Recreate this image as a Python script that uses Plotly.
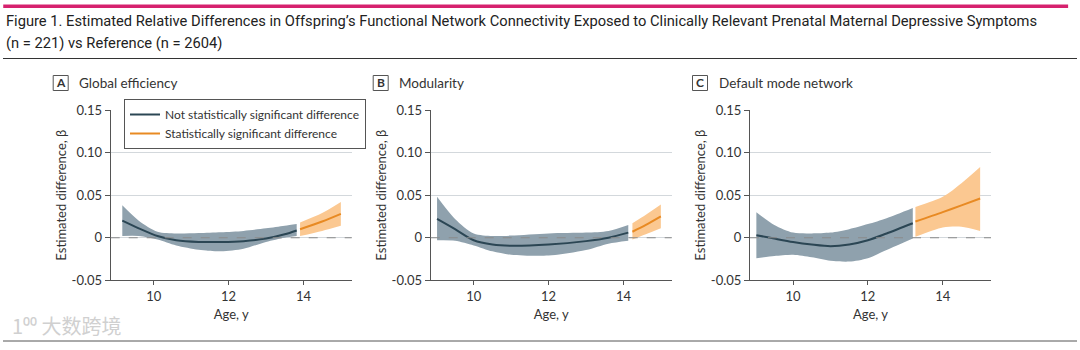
import plotly.graph_objects as go

W, H = 1080, 350

# ---------------- data ----------------
A_ns_age = [9.16, 9.6, 10.1, 10.6, 11.2, 11.8, 12.4, 13.0, 13.5, 13.82]
A_ns_est = [0.020, 0.011, 0.002, -0.003, -0.005, -0.005, -0.004, -0.001, 0.004, 0.0085]
A_ns_up = [0.038, 0.020, 0.007, 0.005, 0.0055, 0.0065, 0.008, 0.011, 0.014, 0.016]
A_ns_lo = [0.002, 0.002, -0.002, -0.009, -0.014, -0.016, -0.013, -0.005, 0.000, 0.002]
A_s_age = [13.91, 14.5, 15.0]
A_s_est = [0.010, 0.019, 0.028]
A_s_up = [0.018, 0.029, 0.042]
A_s_lo = [0.002, 0.008, 0.014]

B_ns_age = [9.02, 9.5, 10.0, 10.5, 11.0, 12.0, 13.0, 13.6, 14.13]
B_ns_est = [0.022, 0.010, -0.003, -0.008, -0.0095, -0.008, -0.004, 0.000, 0.006]
B_ns_up = [0.048, 0.022, 0.005, 0.002, 0.0025, 0.005, 0.006, 0.008, 0.015]
B_ns_lo = [-0.003, -0.0035, -0.009, -0.016, -0.020, -0.021, -0.0145, -0.007, -0.0035]
B_s_age = [14.24, 14.6, 15.0]
B_s_est = [0.007, 0.015, 0.025]
B_s_up = [0.017, 0.027, 0.039]
B_s_lo = [-0.002, 0.004, 0.011]

C_ns_age = [9.02, 9.5, 10.0, 10.5, 11.0, 11.5, 12.0, 12.5, 13.2]
C_ns_est = [0.003, -0.001, -0.005, -0.008, -0.010, -0.008, -0.003, 0.005, 0.017]
C_ns_up = [0.030, 0.015, 0.006, 0.005, 0.006, 0.010, 0.016, 0.023, 0.035]
C_ns_lo = [-0.024, -0.0215, -0.020, -0.023, -0.027, -0.028, -0.024, -0.0145, -0.001]
C_s_age = [13.27, 14.0, 14.5, 15.0]
C_s_est = [0.019, 0.030, 0.038, 0.046]
C_s_up = [0.036, 0.048, 0.064, 0.083]
C_s_lo = [0.001, 0.012, 0.013, 0.008]

panel_letters = ["A", "B", "C"]
panel_titles = ["Global efficiency", "Modularity", "Default mode network"]
y_ticks = [-0.05, 0, 0.05, 0.10, 0.15]
y_ticktext = ["-0.05", "0", "0.05", "0.10", "0.15"]
x_ticks = [10, 12, 14]
legend_names = ["Not statistically significant difference", "Statistically significant difference"]
title_lines = ["Figure 1. Estimated Relative Differences in Offspring\u2019s Functional Network Connectivity Exposed to Clinically Relevant Prenatal Maternal Depressive Symptoms",
               "(n = 221) vs Reference (n = 2604)"]

# ---------------- styling ----------------
NS_BAND = "#8fa1ad"
NS_LINE = "#2b4654"
S_BAND = "#fbc891"
S_LINE = "#e88a23"
PINK = "#d6226e"
TXT = "#333333"
FONT = "Lato"
SM = 0.8

panels = [
    (A_ns_age, A_ns_est, A_ns_up, A_ns_lo, A_s_age, A_s_est, A_s_up, A_s_lo),
    (B_ns_age, B_ns_est, B_ns_up, B_ns_lo, B_s_age, B_s_est, B_s_up, B_s_lo),
    (C_ns_age, C_ns_est, C_ns_up, C_ns_lo, C_s_age, C_s_est, C_s_up, C_s_lo),
]

# pixel layout of each plot area
x_px = [(110.7, 351.7), (430.7, 671.7), (750.0, 991.0)]
y_px = (110.0, 280.3)

fig = go.Figure()

for i, (na, ne, nu, nl, sa, se, su, sl) in enumerate(panels):
    sfx = "" if i == 0 else str(i + 1)
    xr, yr = "x" + sfx, "y" + sfx
    for age, est, up, lo, band, line, name in [
        (na, ne, nu, nl, NS_BAND, NS_LINE, legend_names[0]),
        (sa, se, su, sl, S_BAND, S_LINE, legend_names[1]),
    ]:
        fig.add_trace(go.Scatter(x=age, y=lo, mode="lines", line=dict(width=0, shape="spline", smoothing=SM),
                                 xaxis=xr, yaxis=yr, showlegend=False, hoverinfo="skip"))
        fig.add_trace(go.Scatter(x=age, y=up, mode="lines", line=dict(width=0, shape="spline", smoothing=SM),
                                 fill="tonexty", fillcolor=band,
                                 xaxis=xr, yaxis=yr, showlegend=False, hoverinfo="skip"))
        fig.add_trace(go.Scatter(x=age, y=est, mode="lines", line=dict(width=2, color=line, shape="spline", smoothing=SM),
                                 xaxis=xr, yaxis=yr, name=name, showlegend=(i == 0)))

    xd = [x_px[i][0] / W, x_px[i][1] / W]
    yd = [1 - y_px[1] / H, 1 - y_px[0] / H]
    fig.layout["xaxis" + sfx] = dict(domain=xd, range=[8.85, 15.29], anchor=yr, automargin=False,
                                     tickvals=x_ticks, ticks="outside", ticklen=4, tickcolor="#555",
                                     showline=True, linecolor="#555", linewidth=1, showgrid=False, zeroline=False,
                                     tickfont=dict(family=FONT, size=13, color=TXT),
                                     title=dict(text="Age, y", font=dict(family=FONT, size=13, color=TXT), standoff=6))
    fig.layout["yaxis" + sfx] = dict(domain=yd, range=[-0.05, 0.15], anchor=xr, automargin=False,
                                     tickvals=y_ticks, ticktext=y_ticktext, ticks="outside", ticklen=5, tickcolor="#555",
                                     showline=True, linecolor="#555", linewidth=1,
                                     showgrid=True, gridcolor="#d3d8dc", gridwidth=1, zeroline=False,
                                     tickfont=dict(family=FONT, size=13, color=TXT),
                                     title=dict(text="Estimated difference, \u03b2", font=dict(family=FONT, size=13, color=TXT), standoff=2))
    # dashed reference line at 0
    fig.add_shape(type="line", xref=xr + " domain", yref=yr, x0=0, x1=1, y0=0, y1=0,
                  line=dict(color="#8a8a8a", width=1.2, dash="dash"), layer="above")

    # panel label box + title
    bx = x_px[i][0] - 57.5
    fig.add_shape(type="rect", xref="paper", yref="paper",
                  x0=bx / W, x1=(bx + 15) / W, y0=1 - 90.5 / H, y1=1 - 75.5 / H,
                  line=dict(color="#555", width=1), fillcolor="white")
    fig.add_annotation(x=(bx + 7.5) / W, y=1 - 83 / H, xref="paper", yref="paper", text="<b>" + panel_letters[i] + "</b>",
                       showarrow=False, xanchor="center", yanchor="middle", font=dict(family=FONT, size=12, color=TXT))
    fig.add_annotation(x=(bx + 24) / W, y=1 - 83.5 / H, xref="paper", yref="paper", text=panel_titles[i],
                       showarrow=False, xanchor="left", yanchor="middle", font=dict(family=FONT, size=13.5, color=TXT))

# title and rules (pink top rule)
fig.add_shape(type="rect", xref="paper", yref="paper", x0=0.003, x1=0.989, y0=1 - 8 / H, y1=1 - 4.5 / H,
              line=dict(width=0), fillcolor=PINK, layer="above")
fig.add_shape(type="line", xref="paper", yref="paper", x0=3 / W, x1=1077 / W, y0=1 - 58.5 / H, y1=1 - 58.5 / H,
              line=dict(color="#333", width=1))
fig.add_shape(type="line", xref="paper", yref="paper", x0=3 / W, x1=1077 / W, y0=1 - 341 / H, y1=1 - 341 / H,
              line=dict(color="#555", width=1))
for j, t in enumerate(title_lines):
    fig.add_annotation(x=4 / W, y=1 - (21 + 22 * j) / H, xref="paper", yref="paper", text=t, showarrow=False,
                       xanchor="left", yanchor="middle", font=dict(family="Roboto", size=14.7, color="#222"))

# watermark
fig.add_annotation(x=10 / W, y=1 - 325 / H, xref="paper", yref="paper", text="1\u2070\u2070 大数跨境", showarrow=False,
                   xanchor="left", yanchor="middle", font=dict(family="Noto Sans CJK SC", size=20, color="#d0d0d0"))

fig.update_layout(
    width=W, height=H, margin=dict(l=0, r=0, t=0, b=0, autoexpand=False),
    paper_bgcolor="white", plot_bgcolor="white",
    showlegend=True,
    legend=dict(x=124 / W, y=1 - 99 / H, xanchor="left", yanchor="top", traceorder="normal",
                bordercolor="#555", borderwidth=1, bgcolor="white",
                font=dict(family=FONT, size=12, color=TXT), tracegroupgap=0,
                itemwidth=30),
)

fig.write_html("out.html", config={"displayModeBar": False})
